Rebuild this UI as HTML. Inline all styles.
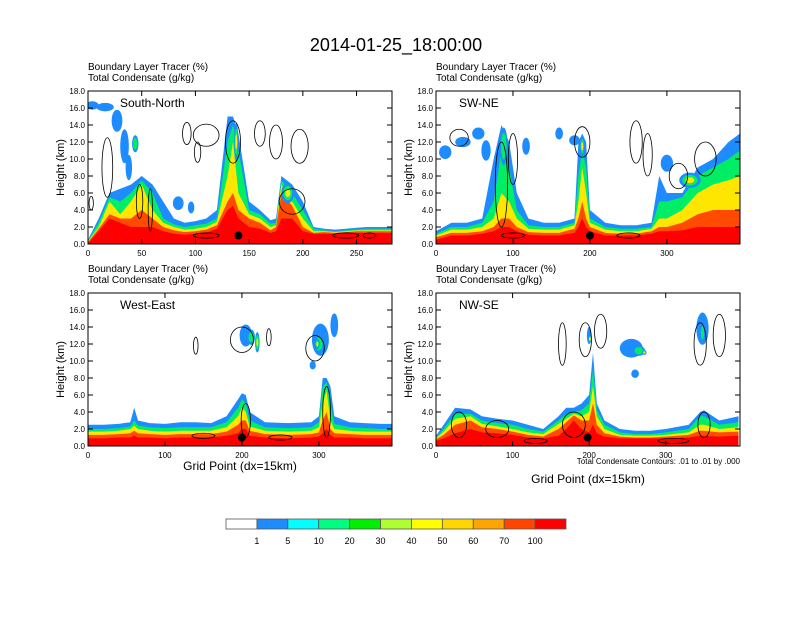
<!DOCTYPE html>
<html><head><meta charset="utf-8"><style>
body{margin:0;background:#fff;}
svg text{font-family:"Liberation Sans",sans-serif;}
</style></head><body>
<svg id="fig" width="792" height="612" viewBox="0 0 792 612" xmlns="http://www.w3.org/2000/svg">
<text x="396" y="51" text-anchor="middle" font-size="18">2014-01-25_18:00:00</text>
</svg>
<script>
// ---- data ----
const levelLabels=["1","5","10","20","30","40","50","60","70","100"];
const levelColors=["#ffffff","#1e8cff","#00ffff","#00ff80","#00ee00","#adff2f","#ffff00","#ffd700","#ffa500","#ff4500","#ff0000"];
const bandColors=["#1e8cff","#00ee66","#ffe600","#ff4a00","#ff0000"];
const panelNames=["South-North","SW-NE","West-East","NW-SE"];
const panelXmax=[283,395,395,397];
const p1x=[0,10,20,30,40,50,60,70,80,90,100,110,120,130,135,140,150,160,170,175,180,190,200,210,220,230,240,250,260,270,283];
const p1b1=[0.5,3,6,6.5,7,8,7,5,3,2.5,2.7,3,4,15,15,13,5,4,2.8,3,8,7,5,2,1.8,1.7,1.8,1.9,2,2,2];
const p1b10=[0.4,2.5,5.5,5,6,7.5,6,3,2.3,2,2.2,2.4,3,12,14,11,4,3.5,2.4,2.5,7.5,6,4,1.8,1.6,1.5,1.6,1.7,1.8,1.8,1.8];
const p1b30=[0.3,2,5,3.5,5,7,4,2.5,2,1.7,1.8,2,2.6,8,12,6,3.5,3,2,2.2,7,5,3,1.5,1.5,1.4,1.5,1.6,1.6,1.6,1.6];
const p1b50=[0.2,1.8,3.5,3,3,4,3,2,1.6,1.4,1.5,1.7,2.2,5,6,4,3,2.5,1.6,2,6,4.5,2,1.3,1.4,1.3,1.4,1.5,1.5,1.5,1.5];
const p1b70=[0.1,1.5,3,2.5,2,2,2,1.5,1.2,1.1,1.2,1.3,1.8,4,4.5,3,2,1.8,1.3,1.5,3,3,1.5,1.2,1.2,1.2,1.3,1.3,1.3,1.3,1.3];
const p2x=[0,20,40,60,75,85,95,105,120,140,160,180,185,190,195,200,220,240,260,280,290,300,320,340,360,380,395];
const p2b1=[1.5,2.5,2.5,3,10,14,12,6,3,2.5,2.5,3,12,13,12,4,2.5,2.2,2.2,2.5,8,6,6,9,10,12,13];
const p2b10=[1.2,2,2,2.5,5,11,9,4,2.2,2,2,2.5,8,11,9,3,2,1.8,1.8,2,5,5,5.5,8,9,10,11];
const p2b30=[1,1.7,1.7,2,3,6,5,3,1.8,1.7,1.7,2.2,5,9,6,2.5,1.7,1.5,1.5,1.8,3,3,4,6,7,7.5,8];
const p2b50=[0.8,1.3,1.3,1.5,2,3,3,2,1.4,1.3,1.3,1.8,3,5,3,2,1.3,1.2,1.2,1.5,2,2,2.5,3.5,4,4,4];
const p2b70=[0.5,1,1,1.2,1.5,2,2,1.5,1.1,1,1,1.3,2,3,2,1.5,1,1,1,1.2,1.5,1.5,1.6,2,2,2,2];
const p3x=[0,20,40,55,60,65,80,100,120,140,160,180,195,200,205,210,230,260,290,300,305,310,315,320,340,360,380,395];
const p3b1=[2.5,2.5,2.6,2.8,4.5,3,2.7,2.6,2.8,2.8,2.7,3.5,5.5,6.2,6,4,2.8,2.7,2.8,3.5,8,8,7,3.5,2.8,2.7,2.6,2.6];
const p3b10=[2,2,2.1,2.3,3,2.4,2.2,2.1,2.2,2.2,2.2,2.8,4.5,5.5,5,3,2.2,2.1,2.2,2.8,7,7.5,5,2.6,2.2,2.1,2,2];
const p3b30=[1.7,1.7,1.8,2,2.4,2,1.8,1.7,1.8,1.8,1.8,2.2,3.5,4.5,4,2.3,1.8,1.7,1.8,2.2,5,6.5,3,2,1.8,1.7,1.7,1.7];
const p3b50=[1.3,1.3,1.4,1.5,1.8,1.5,1.4,1.3,1.4,1.4,1.4,1.7,2.5,3,3,1.8,1.4,1.3,1.4,1.6,3,4,2,1.5,1.4,1.3,1.3,1.3];
const p3b70=[0.9,0.9,1,1,1.2,1,1,0.9,1,1,1,1.2,1.5,2,2,1.2,1,0.9,1,1.1,1.5,2,1.3,1,1,0.9,0.9,0.9];
const p4x=[0,10,25,45,60,80,100,120,140,160,170,180,190,200,205,210,220,240,260,280,300,330,345,350,370,395];
const p4b1=[1.2,2.5,4.5,4.3,3.5,3.2,3,2.5,2,3.5,4.5,4.5,5,6,11,5,3,2,1.8,1.8,2,2.5,4,4.2,3,3.5];
const p4b10=[1,2,3.8,3.8,3,2.7,2.5,2,1.7,3,3.8,4,4.2,5,9,4.2,2.5,1.6,1.4,1.4,1.6,2,3.5,3.5,2.5,2.8];
const p4b30=[0.9,1.7,3.2,3.5,2.6,2.3,2,1.6,1.4,2.6,3.2,3.8,3.5,4,7,3.5,2,1.3,1.2,1.2,1.3,1.6,2.5,2.5,2,2.2];
const p4b50=[0.8,1.3,2.5,3,2.2,2,1.7,1.3,1.1,2,2.8,3.6,3,3,5,2.5,1.5,1.1,1,1,1.1,1.3,1.8,1.8,1.6,1.7];
const p4b70=[0.6,0.9,1.5,2,1.6,1.5,1.3,1,0.9,1.2,2,3,2,1.6,2.5,1.5,1.1,0.9,0.9,0.9,0.9,1,1.2,1.2,1.1,1.2];
// blobs: [gridX, heightKm, radiusGrid, radiusKm, bandIndex]
const p1blobs=[[4,16.3,6,0.5,0],[16,16.1,8,0.5,0],[27,14.5,5,1.3,0],[34,11.5,4,2,0],[38,9,3,1.5,0],[44,11.8,3,1,1],[84,4.8,5,0.8,0],[96,4.3,3,0.7,0],[138,12,2,2.2,2],[186,6,6,1.2,2]];
const p2blobs=[[12,10.8,8,0.8,0],[35,12,10,0.6,0],[55,13,8,0.7,0],[65,11,6,1.2,0],[88,11.5,5,2.2,1],[117,11.5,5,1,0],[160,13,5,0.7,0],[180,12.2,7,0.6,0],[190,11.5,3,1.2,2],[300,9.5,8,1,0],[330,7.5,14,0.9,2]];
const p3blobs=[[205,13,8,1.3,0],[212,12.8,5,0.9,1],[220,12.2,3,1.2,2],[302,12.5,11,1.9,0],[300,12,7,1.1,1],[298,12,3,0.6,2],[320,14.2,5,1.4,0],[292,9.5,4,0.5,0]];
const p4blobs=[[255,11.5,15,1.1,0],[265,11.2,8,0.6,1],[272,11,3,0.3,2],[260,8.5,5,0.5,0],[348,13.8,8,1.9,0],[348,13.3,3,1.1,1],[200,13,3,1,0],[201,12.6,1.5,0.5,2]];
// contours (condensate .01 outlines): [gridX, heightKm, radiusGrid, radiusKm]
const p1cont=[[3,4.8,2,0.8],[18,9,5,3.5],[48,5,3,2],[58,4,2,2.5],[92,13,4,1.3],[110,12.8,12,1.3],[102,10.8,3,1.2],[135,12,7,2.5],[160,13,5,1.5],[175,12,6,2],[197,11.5,8,2],[190,5,12,1.5],[240,1,12,0.3],[262,1,6,0.3],[110,1,12,0.3]];
const p2cont=[[30,12.5,12,1],[85,7,8,5],[100,10,6,3],[190,12,10,1.8],[260,12,8,2.5],[275,10.5,6,2.5],[315,8,12,1.5],[350,10,14,2],[100,1,15,0.3],[250,1,15,0.3]];
const p3cont=[[140,11.8,3,1],[200,12.5,15,1.5],[235,12.8,3,1],[295,11.5,12,1.5],[310,4,5,3],[205,3,6,2],[150,1.2,15,0.3],[250,1,15,0.3]];
const p4cont=[[165,12,5,2.5],[195,12.5,8,2],[215,13.5,8,2],[370,13,8,2.5],[345,12,8,2.5],[30,2.5,10,1.5],[80,2,15,1],[180,2.5,15,1.5],[350,2.5,8,1.5],[130,0.6,15,0.3],[310,0.6,20,0.3]];
const panelX=[p1x,p2x,p3x,p4x];
const panelBands=[[p1b1,p1b10,p1b30,p1b50,p1b70],[p2b1,p2b10,p2b30,p2b50,p2b70],[p3b1,p3b10,p3b30,p3b50,p3b70],[p4b1,p4b10,p4b30,p4b50,p4b70]];
const panelBlobs=[p1blobs,p2blobs,p3blobs,p4blobs];
const panelCont=[p1cont,p2cont,p3cont,p4cont];
const panelDot=[[140,1],[200,1],[200,1],[198,1]];
const xTicks=[[0,50,100,150,200,250],[0,100,200,300],[0,100,200,300],[0,100,200,300]];
const yTicks=[0,2,4,6,8,10,12,14,16,18];
// ---- drawing ----
const NS="http://www.w3.org/2000/svg";
const fig=document.getElementById('fig');
function mk(tag,attrs,parent){const e=document.createElementNS(NS,tag);for(const k in attrs)e.setAttribute(k,attrs[k]);(parent||fig).appendChild(e);return e;}
const boxes=[[88,91],[436,91],[88,293],[436,293]];
const PW=304,PH=153;
boxes.forEach((b,i)=>{
  const [x0,y0]=b;
  const sx=g=>x0+g/panelXmax[i]*PW;
  const sy=z=>y0+PH-z/18*PH;
  const g=mk('g',{});
  
  
  const cp=mk('clipPath',{id:'cp'+i},g);mk('rect',{x:x0,y:y0,width:PW,height:PH},cp);
  const plot=mk('g',{'clip-path':'url(#cp'+i+')'},g);
  const xs=panelX[i];
  panelBands[i].forEach((arr,bi)=>{
    let d='M'+sx(xs[0])+','+sy(0);
    xs.forEach((gx,k)=>{d+=' L'+sx(gx).toFixed(1)+','+sy(arr[k]).toFixed(1);});
    d+=' L'+sx(xs[xs.length-1])+','+sy(0)+' Z';
    const p=mk('path',{d:d,fill:bandColors[bi]},plot);
    
    
  });
  panelBlobs[i].forEach(bl=>{
    for(let k=0;k<=bl[4];k++){
      const f=1-k*0.3;
      const e=mk('ellipse',{cx:sx(bl[0]),cy:sy(bl[1]),rx:Math.max(1,(sx(bl[2])-x0)*f),ry:Math.max(1,(y0+PH-sy(bl[3]))*f),fill:bandColors[k]},plot);
      
      
    }
  });
  panelCont[i].forEach(c=>{
    const e=mk('ellipse',{cx:sx(c[0]),cy:sy(c[1]),rx:sx(c[2])-x0,ry:y0+PH-sy(c[3]),fill:'none',stroke:'#000','stroke-width':0.8},plot);
    
    
  });
  const dot=mk('circle',{cx:sx(panelDot[i][0]),cy:sy(panelDot[i][1]),r:4,fill:'#000'},plot);
  
  
  const fr=mk('rect',{x:x0,y:y0,width:PW,height:PH,fill:'none',stroke:'#000','stroke-width':1},g);
  
  
  yTicks.forEach(t=>{
    mk('line',{x1:x0,x2:x0+5,y1:sy(t),y2:sy(t),stroke:'#000'},g);
    mk('line',{x1:x0+PW,x2:x0+PW-5,y1:sy(t),y2:sy(t),stroke:'#000'},g);
    const tl=mk('text',{x:x0-3,y:sy(t)+3,'font-size':8,'text-anchor':'end'},g);tl.textContent=t.toFixed(1);
    
    
  });
  xTicks[i].forEach(t=>{
    mk('line',{x1:sx(t),x2:sx(t),y1:y0+PH,y2:y0+PH-5,stroke:'#000'},g);
    mk('line',{x1:sx(t),x2:sx(t),y1:y0,y2:y0+5,stroke:'#000'},g);
    const tl=mk('text',{x:sx(t),y:y0+PH+12,'font-size':8,'text-anchor':'middle'},g);tl.textContent=t;
    
    
  });
  const yt=mk('text',{x:0,y:0,'font-size':11,'text-anchor':'middle',transform:'translate('+(x0-24)+','+(y0+PH/2)+') rotate(-90)'},g);yt.textContent='Height (km)';
  
  
  const h1=mk('text',{x:x0,y:y0-21,'font-size':10},g);h1.textContent='Boundary Layer Tracer   (%)';
  
  
  const h2=mk('text',{x:x0,y:y0-10,'font-size':10},g);h2.textContent='Total Condensate   (g/kg)';
  
  
  const nm=mk('text',{x:x0+(i%2?23:32),y:y0+16,'font-size':12},g);nm.textContent=panelNames[i];
  
  
});
const xt1=mk('text',{x:240,y:470,'font-size':12,'text-anchor':'middle'});xt1.textContent='Grid Point (dx=15km)';


const xt2=mk('text',{x:588,y:483,'font-size':12,'text-anchor':'middle'});xt2.textContent='Grid Point (dx=15km)';


const note=mk('text',{x:740,y:464,'font-size':8,'text-anchor':'end'});note.textContent='Total Condensate Contours: .01 to .01 by .000';


// colorbar
const cb=mk('g',{});


const cbx=226,cbw=340/levelColors.length;
levelColors.forEach((c,k)=>{
  const r=mk('rect',{x:cbx+k*cbw,y:519,width:cbw,height:10,fill:c,stroke:'#555','stroke-width':0.8},cb);
  
  
});
levelLabels.forEach((l,k)=>{
  const t=mk('text',{x:cbx+(k+1)*cbw,y:544,'font-size':9,'text-anchor':'middle'},cb);t.textContent=l;
  
  
});
</script>
</body></html>
